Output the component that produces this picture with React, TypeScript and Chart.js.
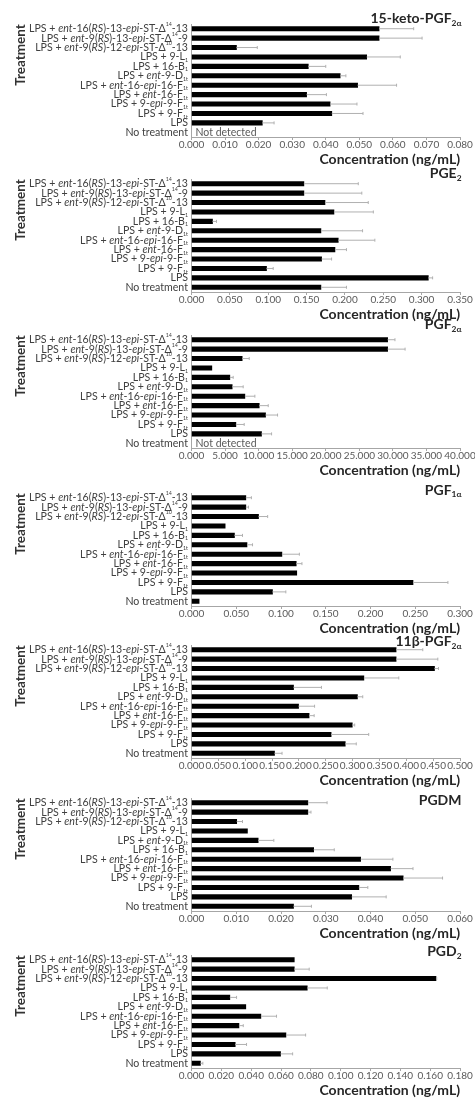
import { useEffect, useRef } from 'react';
import { Chart, registerables } from 'chart.js';

Chart.register(...registerables);

const FONT = 'Lato, "Open Sans", sans-serif';

// Treatment categories, top to bottom. Markup: *italic*, ^superscript^, ~subscript~
const treatments = [
  'LPS + *ent*-16(*RS*)-13-*epi*-ST-Δ^14^-13',
  'LPS + *ent*-9(*RS*)-13-*epi*-ST-Δ^14^-9',
  'LPS + *ent*-9(*RS*)-12-*epi*-ST-Δ^10^-13',
  'LPS + 9-L~1~',
  'LPS + 16-B~1~',
  'LPS + *ent*-9-D~1t~',
  'LPS + *ent*-16-*epi*-16-F~1t~',
  'LPS + *ent*-16-F~1t~',
  'LPS + 9-*epi*-9-F~1t~',
  'LPS + 9-F~1t~',
  'LPS',
  'No treatment',
];

// The PGDM panel lists ent-9-D before 16-B
const treatmentsPGDM = [
  'LPS + *ent*-16(*RS*)-13-*epi*-ST-Δ^14^-13',
  'LPS + *ent*-9(*RS*)-13-*epi*-ST-Δ^14^-9',
  'LPS + *ent*-9(*RS*)-12-*epi*-ST-Δ^10^-13',
  'LPS + 9-L~1~',
  'LPS + *ent*-9-D~1t~',
  'LPS + 16-B~1~',
  'LPS + *ent*-16-*epi*-16-F~1t~',
  'LPS + *ent*-16-F~1t~',
  'LPS + 9-*epi*-9-F~1t~',
  'LPS + 9-F~1t~',
  'LPS',
  'No treatment',
];

// Concentrations (ng/mL); null = not detected
const ketoPGF2aMean = [0.0559, 0.0559, 0.0134, 0.0522, 0.0348, 0.0443, 0.0495, 0.0343, 0.0413, 0.0418, 0.0211, null];
const ketoPGF2aErr = [0.0103, 0.0128, 0.0062, 0.01, 0.0052, 0.0017, 0.0116, 0.0059, 0.008, 0.0093, 0.0035, 0];

const pge2Mean = [0.1465, 0.1465, 0.174, 0.1857, 0.0274, 0.1687, 0.1913, 0.187, 0.1696, 0.0978, 0.3087, 0.1687];
const pge2Err = [0.0709, 0.0755, 0.0564, 0.0513, 0.0052, 0.0543, 0.0477, 0.015, 0.013, 0.0087, 0.0056, 0.0333];

const pgf2aMean = [29.22, 29.22, 7.55, 3.03, 5.71, 6.06, 7.95, 10.09, 11.03, 6.61, 10.43, null];
const pgf2aErr = [1.09, 2.6, 1.05, 0, 0.5, 1.64, 1.49, 1.34, 1.79, 1.24, 1.5, 0];

const pgf1aMean = [0.0607, 0.0607, 0.0749, 0.0376, 0.048, 0.062, 0.101, 0.117, 0.1176, 0.2475, 0.0905, 0.0085];
const pgf1aErr = [0.0062, 0.003, 0.0102, 0, 0.009, 0.0062, 0.0195, 0.0064, 0, 0.039, 0.0149, 0];

const pgf2aBetaMean = [0.381, 0.381, 0.4525, 0.321, 0.19, 0.309, 0.1994, 0.219, 0.2994, 0.26, 0.2863, 0.1546];
const pgf2aBetaErr = [0.0497, 0.0777, 0.0075, 0.065, 0.052, 0.0099, 0.0298, 0.0094, 0.0045, 0.07, 0.0205, 0.014];

const pgdmMean = [0.026, 0.026, 0.0101, 0.0125, 0.0149, 0.0273, 0.0378, 0.0445, 0.0473, 0.0374, 0.0358, 0.0228];
const pgdmErr = [0.0043, 0.0007, 0.0013, 0, 0.0035, 0.0046, 0.0072, 0.005, 0.0088, 0.002, 0.0077, 0.004];

const pgd2Mean = [0.0689, 0.0689, 0.1639, 0.0776, 0.0257, 0.0364, 0.0465, 0.0318, 0.0633, 0.0293, 0.0597, 0.006];
const pgd2Err = [0, 0.01, 0.0005, 0.0134, 0.0045, 0, 0.0105, 0.0029, 0.0132, 0.0076, 0.0081, 0.0016];

type PanelDef = {
  title: string;
  labels: string[];
  mean: (number | null)[];
  err: number[];
  max: number;
  step: number;
};

const panels: PanelDef[] = [
  { title: '15-keto-PGF~2α~', labels: treatments, mean: ketoPGF2aMean, err: ketoPGF2aErr, max: 0.08, step: 0.01 },
  { title: 'PGE~2~', labels: treatments, mean: pge2Mean, err: pge2Err, max: 0.35, step: 0.05 },
  { title: 'PGF~2α~', labels: treatments, mean: pgf2aMean, err: pgf2aErr, max: 40, step: 5 },
  { title: 'PGF~1α~', labels: treatments, mean: pgf1aMean, err: pgf1aErr, max: 0.3, step: 0.05 },
  { title: '11β-PGF~2α~', labels: treatments, mean: pgf2aBetaMean, err: pgf2aBetaErr, max: 0.5, step: 0.05 },
  { title: 'PGDM', labels: treatmentsPGDM, mean: pgdmMean, err: pgdmErr, max: 0.06, step: 0.01 },
  { title: 'PGD~2~', labels: treatments, mean: pgd2Mean, err: pgd2Err, max: 0.18, step: 0.02 },
];

// Page layout: top edge of each plot area and the offset of its heading
const plotTops = [23.5, 178.5, 334.5, 493, 645, 798, 954.5];
const titleOffsets = [-5.5, -5.5, -10.2, -3, -3.5, 2, -3.5];

const PAD_TOP = 22;
const AXIS_H = 31;
const PLOT_H = 113;
const CANVAS_H = PAD_TOP + PLOT_H + AXIS_H;
const PLOT_LEFT = 191.5;

type Seg = { t: string; it: boolean; sup: boolean; sub: boolean };

function parseRich(s: string): Seg[] {
  const out: Seg[] = [];
  let it = false, sup = false, sub = false, buf = '';
  const flush = () => {
    if (buf) out.push({ t: buf, it, sup, sub });
    buf = '';
  };
  for (const ch of s) {
    if (ch === '*') { flush(); it = !it; }
    else if (ch === '^') { flush(); sup = !sup; }
    else if (ch === '~') { flush(); sub = !sub; }
    else buf += ch;
  }
  flush();
  return out;
}

const plain = (s: string) => s.replace(/[*^~]/g, '');

function drawRich(
  ctx: CanvasRenderingContext2D,
  text: string,
  rightX: number,
  y: number,
  size: number,
  bold: boolean,
  color: string,
  smallRatio: number,
) {
  const segs = parseRich(text);
  const fontFor = (g: Seg) =>
    `${g.it ? 'italic ' : ''}${bold ? 'bold ' : ''}${g.sup || g.sub ? size * smallRatio : size}px ${FONT}`;
  const widths = segs.map((g) => {
    ctx.font = fontFor(g);
    return ctx.measureText(g.t).width;
  });
  let x = rightX - widths.reduce((a, b) => a + b, 0);
  ctx.fillStyle = color;
  ctx.textAlign = 'left';
  ctx.textBaseline = 'middle';
  segs.forEach((g, i) => {
    ctx.font = fontFor(g);
    const dy = g.sup ? -size * 0.38 : g.sub ? size * 0.32 : 0;
    ctx.fillText(g.t, x, y + dy);
    x += widths[i];
  });
}

function decorPlugin(p: PanelDef, titleDy: number) {
  return {
    id: 'panelDecor',
    afterDatasetsDraw(chart: Chart) {
      const ctx = chart.ctx;
      const area = chart.chartArea;
      const xs = chart.scales.x;
      const ys = chart.scales.y;
      ctx.save();

      // error bars (mean + error), and "Not detected" for missing rows
      p.mean.forEach((v, i) => {
        const yc = ys.getPixelForValue(i);
        if (v === null) {
          ctx.font = `10.5px ${FONT}`;
          ctx.fillStyle = '#595959';
          ctx.textAlign = 'left';
          ctx.textBaseline = 'middle';
          ctx.fillText('Not detected', xs.getPixelForValue(0) + 4, yc);
          return;
        }
        const e = p.err[i];
        if (!e) return;
        const x0 = xs.getPixelForValue(v);
        const x1 = xs.getPixelForValue(v + e);
        ctx.strokeStyle = '#b0b0b0';
        ctx.lineWidth = 1;
        ctx.beginPath();
        ctx.moveTo(x0, yc);
        ctx.lineTo(x1, yc);
        ctx.moveTo(x1, yc - 1.5);
        ctx.lineTo(x1, yc + 1.5);
        ctx.stroke();
      });

      // category labels with italics and sub/superscripts
      p.labels.forEach((lab, i) => {
        drawRich(ctx, lab, area.left - 3.5, ys.getPixelForValue(i), 10.6, false, '#404040', 0.5);
      });

      // vertical axis title
      ctx.save();
      ctx.translate(20.5, area.top + 31);
      ctx.rotate(-Math.PI / 2);
      ctx.font = `bold 13.5px ${FONT}`;
      ctx.fillStyle = '#333333';
      ctx.textAlign = 'center';
      ctx.textBaseline = 'middle';
      ctx.fillText('Treatment', 0, 0);
      ctx.restore();

      // panel heading
      drawRich(ctx, p.title, area.right + 1.5, area.top + titleDy, 14, true, '#262626', 0.6);
      ctx.restore();
    },
  };
}

function Panel({ def, plotTop, titleDy }: { def: PanelDef; plotTop: number; titleDy: number }) {
  const ref = useRef<HTMLCanvasElement>(null);

  useEffect(() => {
    const canvas = ref.current;
    if (!canvas) return;
    const chart = new Chart(canvas, {
      type: 'bar',
      data: {
        labels: def.labels.map(plain),
        datasets: [
          {
            data: def.mean,
            backgroundColor: '#000000',
            borderWidth: 0,
            barThickness: 4.5,
          },
        ],
      },
      options: {
        indexAxis: 'y',
        responsive: false,
        maintainAspectRatio: false,
        animation: false,
        devicePixelRatio: 1,
        layout: { padding: { top: PAD_TOP, right: 15, left: 0, bottom: 0 } },
        plugins: {
          legend: { display: false },
          tooltip: { enabled: false },
          title: { display: false },
        },
        scales: {
          x: {
            type: 'linear',
            min: 0,
            max: def.max,
            afterFit: (s: any) => {
              s.height = AXIS_H;
            },
            ticks: {
              stepSize: def.step,
              callback: (v: any) => Number(v).toFixed(3),
              font: { family: FONT, size: 10 },
              color: '#595959',
              padding: -1,
              maxRotation: 0,
              minRotation: 0,
              autoSkip: false,
            },
            grid: { drawOnChartArea: false, drawTicks: true, tickLength: 3, color: '#a6a6a6' },
            border: { color: '#a6a6a6' },
            title: {
              display: true,
              text: 'Concentration (ng/mL)',
              align: 'end',
              color: '#262626',
              font: { family: FONT, size: 14, weight: 'bold' },
              padding: 0,
            },
          },
          y: {
            type: 'category',
            afterFit: (s: any) => {
              s.width = PLOT_LEFT;
            },
            ticks: { display: false },
            grid: { display: false },
            border: { color: '#a6a6a6' },
          },
        },
      },
      plugins: [decorPlugin(def, titleDy)],
    });
    return () => chart.destroy();
  }, [def, plotTop, titleDy]);

  return (
    <canvas
      ref={ref}
      width={475}
      height={CANVAS_H}
      style={{ position: 'absolute', left: 0, top: plotTop - PAD_TOP, width: 475, height: CANVAS_H }}
    />
  );
}

export default function App() {
  return (
    <div
      style={{
        position: 'absolute',
        left: 0,
        top: 0,
        width: 475,
        height: 1098,
        overflow: 'hidden',
        background: '#ffffff',
      }}
    >
      {panels.map((p, i) => (
        <Panel key={i} def={p} plotTop={plotTops[i]} titleDy={titleOffsets[i]} />
      ))}
    </div>
  );
}
